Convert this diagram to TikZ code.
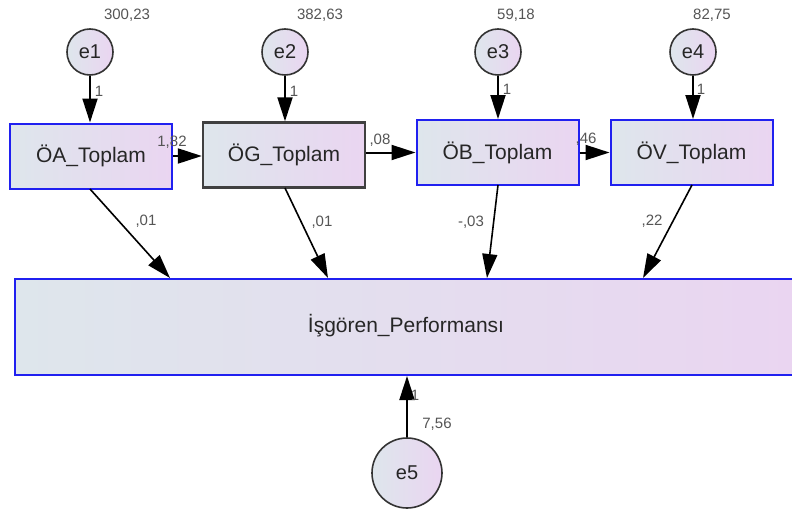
\documentclass[tikz,border=0pt]{standalone}
\usepackage{fontspec}
\setmainfont{Liberation Sans}
\usetikzlibrary{arrows.meta}
\definecolor{fillL}{HTML}{DEE6EC}
\definecolor{fillR}{HTML}{EAD5F1}
\definecolor{edgeblue}{HTML}{2020F0}
\definecolor{numc}{HTML}{555555}
\tikzset{
  obsbox/.style={draw=edgeblue, line width=2pt, left color=fillL, right color=fillR,
    minimum width=162pt, minimum height=65pt, inner sep=0pt,
    font=\fontsize{21}{24}\selectfont, text=black!85},
  errc/.style={circle, draw=black!80, line width=1.6pt, left color=fillL, right color=fillR,
    minimum size=46pt, inner sep=0pt, font=\fontsize{20}{22}\selectfont, text=black!85},
  path/.style={-{Triangle[length=24pt,width=15pt]}, line width=2pt, black},
  num/.style={font=\fontsize{15}{17}\selectfont, text=numc, inner sep=0pt}
}
\begin{document}
\begin{tikzpicture}[x=1pt,y=-1pt]
\useasboundingbox (0,0) rectangle (792,514);
\fill[white] (0,0) rectangle (792,514);

% error terms
\node[errc] (e1) at (90,52) {e1};
\node[errc] (e2) at (285,52) {e2};
\node[errc] (e3) at (498,52) {e3};
\node[errc] (e4) at (693,52) {e4};
\node[errc, minimum size=70pt] (e5) at (407,473) {e5};

% observed variables
\node[obsbox] (oa) at (91,156) {ÖA\_Toplam};
\node[obsbox, draw=black!75, line width=2.4pt] (og) at (284,155) {ÖG\_Toplam};
\node[obsbox] (ob) at (497.5,152.5) {ÖB\_Toplam};
\node[obsbox] (ov) at (691.5,152.5) {ÖV\_Toplam};

% outcome variable (runs past the right edge)
\node[obsbox, minimum width=786pt, minimum height=96pt, anchor=north west] (ip) at (14,278) {};
\node[font=\fontsize{21}{24}\selectfont, text=black!85] (iplab) at (406,326) {İşgören\_Performansı};

% error paths
\draw[path] (e1.south) -- (oa.north -| e1.south);
\draw[path] (e2.south) -- (og.north -| e2.south);
\draw[path] (e3.south) -- (ob.north -| e3.south);
\draw[path] (e4.south) -- (ov.north -| e4.south);
\draw[path] (e5.north) -- (ip.south -| e5.north);

% chain
\draw[path] (oa.east) -- (og.west |- oa.east);
\draw[path] (og.east |- ob.west) -- (ob.west);
\draw[path] (ob.east) -- (ov.west);

% paths to the outcome
\coordinate (t1) at (170,278);
\coordinate (t2) at (328,278);
\coordinate (t3) at (487,278);
\coordinate (t4) at (643,278);
\coordinate (s1) at (90,189);
\coordinate (s2) at (285,188);
\coordinate (s3) at (498,185);
\coordinate (s4) at (692,185);
\draw[path, line width=1.6pt] (s1) -- (t1);
\draw[path, line width=1.6pt] (s2) -- (t2);
\draw[path, line width=1.6pt] (s3) -- (t3);
\draw[path, line width=1.6pt] (s4) -- (t4);

% estimates
\node[num] (v1) at (127,15) {300,23};
\node[num] (v2) at (320,15) {382,63};
\node[num] (v3) at (516,15) {59,18};
\node[num] (v4) at (712,15) {82,75};
\node[num] (w1) at (99,91) {1};
\node[num] (w2) at (294,91) {1};
\node[num] (w3) at (507,89) {1};
\node[num] (w4) at (701,89) {1};
\node[num] (c1) at (172,142) {1,82};
\node[num] (c2) at (380,140) {,08};
\node[num] (c3) at (586,139) {,46};
\node[num] (p1) at (146,221) {,01};
\node[num] (p2) at (322,222) {,01};
\node[num] (p3) at (471,222) {-,03};
\node[num] (p4) at (652,221) {,22};
\node[num] (w5) at (415,395) {1};
\node[num] (v5) at (437,424) {7,56};
\end{tikzpicture}
\end{document}
